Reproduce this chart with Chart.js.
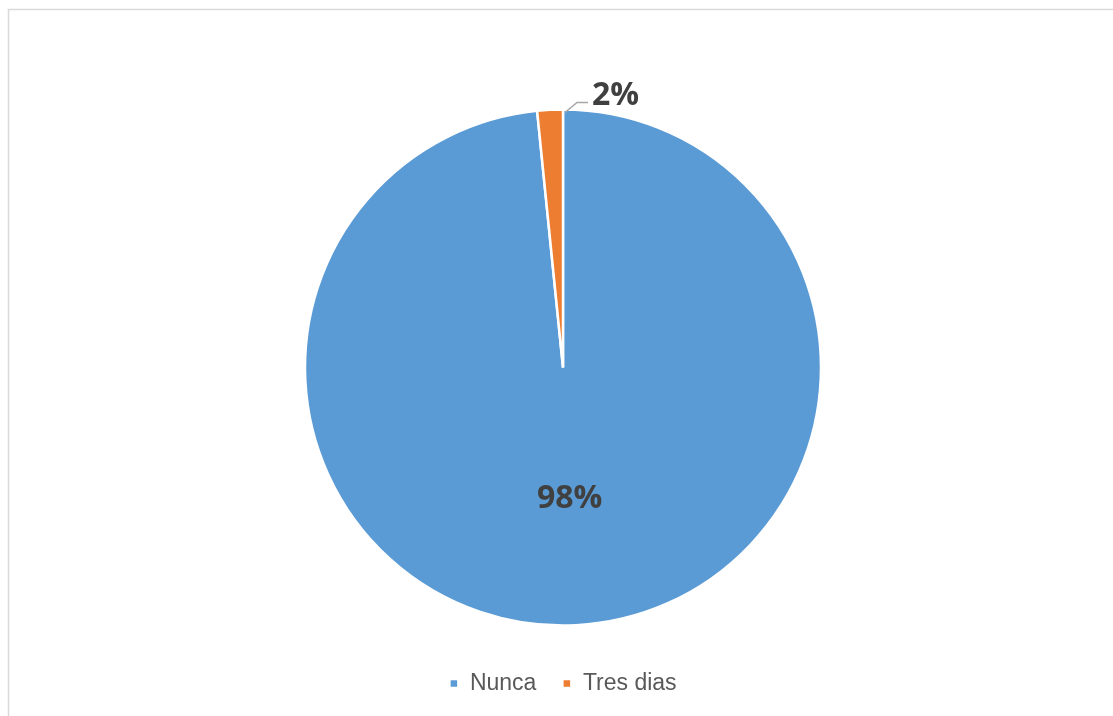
<!DOCTYPE html>
<html>
<head>
<meta charset="utf-8">
<script src="https://cdn.jsdelivr.net/npm/chart.js@4"></script>
<style>
  html, body { margin: 0; padding: 0; background: #fff; }
  canvas { display: block; }
</style>
</head>
<body>
<canvas id="chartFrecuencia" width="1113" height="716"></canvas>
<script>
// datos
const categorias = ['Nunca', 'Tres dias'];
const porcentajes = [98.4, 1.6];
const etiquetas = ['98%', '2%'];
const colores = ['#5B9BD5', '#ED7D31'];

const textoOscuro = '#404040';

// marco gris claro (solo borde superior e izquierdo visibles)
const marco = {
    id: 'marco',
    beforeDraw(chart) {
        const ctx = chart.ctx;
        ctx.save();
        ctx.strokeStyle = '#d9d9d9';
        ctx.lineWidth = 1.5;
        ctx.beginPath();
        ctx.moveTo(8.5, chart.height);
        ctx.lineTo(8.5, 9.5);
        ctx.lineTo(chart.width, 9.5);
        ctx.stroke();
        ctx.restore();
    }
};

// etiquetas de datos: la grande dentro, la chica afuera con linea guia
const etiquetasDatos = {
    id: 'etiquetasDatos',
    afterDatasetsDraw(chart) {
        const ctx = chart.ctx;
        const arcos = chart.getDatasetMeta(0).data;
        ctx.save();
        ctx.font = 'bold 32px "Open Sans", "DejaVu Sans", sans-serif';
        ctx.fillStyle = textoOscuro;
        ctx.textBaseline = 'middle';

        // Nunca
        let a = arcos[0];
        let medio = (a.startAngle + a.endAngle) / 2;
        let r = a.outerRadius * 0.51;
        ctx.textAlign = 'center';
        ctx.fillText(etiquetas[0], a.x + Math.cos(medio) * r, a.y + Math.sin(medio) * r);

        // Tres dias
        a = arcos[1];
        const px = a.x + Math.cos(a.endAngle) * a.outerRadius + 2;
        const py = a.y + Math.sin(a.endAngle) * a.outerRadius + 3;
        ctx.strokeStyle = '#a6a6a6';
        ctx.lineWidth = 1.5;
        ctx.beginPath();
        ctx.moveTo(px, py);
        ctx.lineTo(px + 12, py - 10);
        ctx.lineTo(px + 23, py - 10);
        ctx.stroke();
        ctx.textAlign = 'left';
        ctx.fillText(etiquetas[1], px + 27, py - 17);
        ctx.restore();
    }
};

new Chart(document.getElementById('chartFrecuencia').getContext('2d'), {
    type: 'pie',
    data: {
        labels: categorias,
        datasets: [{
            data: porcentajes,
            backgroundColor: colores,
            borderColor: '#ffffff',
            borderWidth: 2.5
        }]
    },
    options: {
        responsive: false,
        devicePixelRatio: 1,
        animation: false,
        radius: 258,
        layout: { padding: { top: 89, left: 13, right: 0, bottom: 11 } },
        plugins: {
            tooltip: { enabled: false },
            legend: {
                position: 'bottom',
                labels: {
                    boxWidth: 9,
                    boxHeight: 9,
                    padding: 26,
                    color: '#595959',
                    font: { size: 23, family: '"Liberation Sans", sans-serif' }
                }
            }
        }
    },
    plugins: [marco, etiquetasDatos]
});
</script>
</body>
</html>
